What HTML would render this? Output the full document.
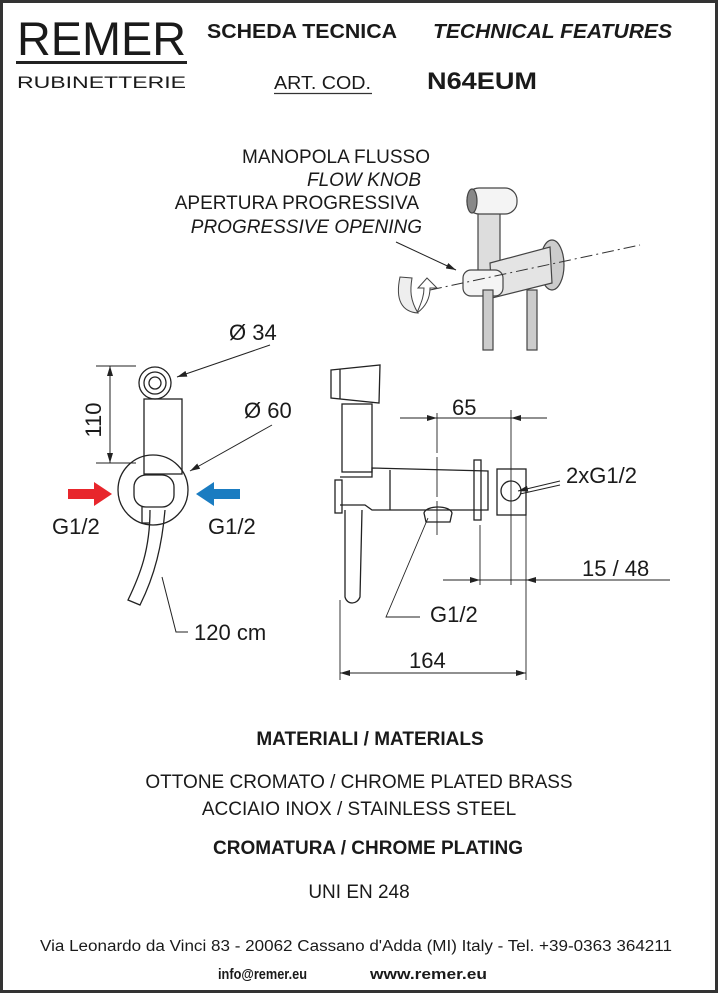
<!DOCTYPE html>
<html><head><meta charset="utf-8"><style>
html,body{margin:0;padding:0;background:#fff}
svg{display:block}
text{font-family:"Liberation Sans",sans-serif;fill:#1a1a1a}
</style></head><body>
<svg width="718" height="994" viewBox="0 0 718 994" xmlns="http://www.w3.org/2000/svg">
<defs>
<marker id="ar" markerWidth="10" markerHeight="6" refX="10" refY="3" orient="auto" markerUnits="userSpaceOnUse"><path d="M0,0 L10,3 L0,6z" fill="#222"/></marker>
<marker id="as" markerWidth="10" markerHeight="6" refX="0" refY="3" orient="auto" markerUnits="userSpaceOnUse"><path d="M10,0 L0,3 L10,6z" fill="#222"/></marker>
</defs>
<rect x="1.5" y="1.5" width="715" height="990" fill="#fff" stroke="#333" stroke-width="3"/>
<!-- header -->
<text x="17" y="55" font-size="47" textLength="169" lengthAdjust="spacingAndGlyphs">REMER</text>
<rect x="16" y="61" width="171" height="3" fill="#222"/>
<text x="17" y="88" font-size="17" textLength="169" lengthAdjust="spacingAndGlyphs">RUBINETTERIE</text>
<text x="207" y="38" font-size="20" font-weight="bold" textLength="190" lengthAdjust="spacingAndGlyphs">SCHEDA TECNICA</text>
<text x="433" y="38" font-size="20" font-weight="bold" font-style="italic" textLength="239" lengthAdjust="spacingAndGlyphs">TECHNICAL FEATURES</text>
<text x="274" y="89" font-size="18" textLength="97" lengthAdjust="spacingAndGlyphs">ART. COD.</text>
<line x1="274" y1="93.5" x2="372" y2="93.5" stroke="#333" stroke-width="1.2"/>
<text x="427" y="89" font-size="24" font-weight="bold" textLength="110" lengthAdjust="spacingAndGlyphs">N64EUM</text>
<!-- top labels -->
<g font-size="19" text-anchor="end">
<text x="430" y="163">MANOPOLA FLUSSO</text>
<text x="421" y="186" font-style="italic">FLOW KNOB</text>
<text x="419" y="209">APERTURA PROGRESSIVA</text>
<text x="422" y="233" font-style="italic">PROGRESSIVE OPENING</text>
</g>
<line x1="396" y1="242" x2="456" y2="270" stroke="#222" marker-end="url(#ar)"/>
<!-- product image -->
<g stroke="#444" fill="#eee" stroke-width="1.2">
<rect x="478" y="197" width="22" height="92" fill="#ddd"/>
<rect x="467" y="188" width="50" height="26" rx="12" fill="#f4f4f4"/>
<ellipse cx="472" cy="201" rx="5" ry="12" fill="#888"/>
<ellipse cx="552" cy="265" rx="12" ry="25" fill="#ccc"/>
<path d="M490,263 L550,247 L552,283 L492,298z" fill="#e4e4e4"/>
<rect x="463" y="270" width="40" height="26" rx="8" fill="#f4f4f4"/>
<rect x="483" y="290" width="10" height="60" fill="#ccc"/>
<rect x="527" y="290" width="10" height="60" fill="#ccc"/>
</g>
<line x1="430" y1="290" x2="640" y2="245" stroke="#333" stroke-dasharray="12,4,2,4"/>
<path d="M400,277 C395,300 402,312 418,313 C410,300 410,290 412,278z" fill="#eee" stroke="#444"/>
<path d="M417,313 C428,305 430,295 430,288 L437,288 L427,278 L418,288 L424,288 C424,298 420,305 417,313" fill="#fff" stroke="#444"/>
<!-- left drawing -->
<g stroke="#222" fill="none" stroke-width="1.3">
<circle cx="155" cy="383" r="16"/><circle cx="155" cy="383" r="11"/><circle cx="155" cy="383" r="6"/>
<rect x="144" y="399" width="38" height="75"/>
<circle cx="153" cy="490" r="35"/>
<rect x="134" y="475" width="40" height="32" rx="12"/>
<path d="M142,507 L142,523 L150,523"/>
<path d="M150,510 C150,550 140,575 128,600 L140,605 C155,575 162,545 165,510"/>
</g>
<g stroke="#222" stroke-width="1">
<line x1="96" y1="366" x2="136" y2="366"/><line x1="96" y1="463" x2="136" y2="463"/>
<line x1="110" y1="366" x2="110" y2="463" marker-start="url(#as)" marker-end="url(#ar)"/>
<line x1="270" y1="345" x2="177" y2="377" marker-end="url(#ar)"/>
<line x1="272" y1="425" x2="190" y2="471" marker-end="url(#ar)"/>
<polyline points="162,577 176,632 188,632" fill="none"/>
</g>
<path d="M68,489 h26 v-7 l18,12 l-18,12 v-7 h-26z" fill="#e8262c"/>
<path d="M240,489 h-26 v-7 l-18,12 l18,12 v-7 h26z" fill="#1a7cc1"/>
<g font-size="22">
<text x="101" y="420" transform="rotate(-90 101 420)" text-anchor="middle">110</text>
<text x="229" y="340">Ø 34</text>
<text x="244" y="418">Ø 60</text>
<text x="52" y="534">G1/2</text>
<text x="208" y="534">G1/2</text>
<text x="194" y="640">120 cm</text>
</g>
<!-- right drawing -->
<g stroke="#222" fill="none" stroke-width="1.3">
<path d="M331,370 L380,365 L379,403 L331,398z"/><line x1="340" y1="369" x2="340" y2="399"/>
<rect x="342" y="404" width="30" height="68"/>
<path d="M340,477 L372,477 L372,468 L488,471 L488,510 L372,510 L365,505 L340,505"/>
<line x1="390" y1="470" x2="390" y2="510"/>
<rect x="335" y="480" width="7" height="33"/>
<rect x="474" y="460" width="7" height="60"/>
<rect x="497" y="469" width="29" height="46"/>
<circle cx="511" cy="491" r="10"/>
<path d="M424,513 C426,505 450,505 452,513 L450,522 L426,522z"/>
<path d="M345,510 L345,597 C347,605 357,605 360,597 L362,510"/>
</g>
<g stroke="#222" stroke-width="0.9">
<line x1="400" y1="418" x2="547" y2="418"/>
<line x1="418" y1="418" x2="437" y2="418" marker-end="url(#ar)"/>
<line x1="530" y1="418" x2="511" y2="418" marker-end="url(#ar)"/>
<line x1="437" y1="413" x2="437" y2="535" stroke-dasharray="40,4"/>
<line x1="511" y1="410" x2="511" y2="585"/>
<line x1="560" y1="481" x2="518" y2="491" marker-end="url(#ar)"/>
<line x1="560" y1="485" x2="520" y2="494"/>
<line x1="443" y1="580" x2="670" y2="580"/>
<line x1="462" y1="580" x2="480" y2="580" marker-end="url(#ar)"/>
<line x1="545" y1="580" x2="526" y2="580" marker-end="url(#ar)"/>
<line x1="480" y1="525" x2="480" y2="585"/>
<line x1="526" y1="515" x2="526" y2="680"/>
<polyline points="428,518 386,617 420,617" fill="none"/>
<line x1="340" y1="600" x2="340" y2="680"/>
<line x1="340" y1="673" x2="526" y2="673" marker-start="url(#as)" marker-end="url(#ar)"/>
</g>
<g font-size="22">
<text x="452" y="415">65</text>
<text x="566" y="483">2xG1/2</text>
<text x="582" y="576">15 / 48</text>
<text x="430" y="622">G1/2</text>
<text x="409" y="668">164</text>
</g>
<!-- bottom text -->
<g text-anchor="middle">
<text x="370" y="745" font-size="19" font-weight="bold">MATERIALI / MATERIALS</text>
<text x="359" y="788" font-size="19">OTTONE CROMATO / CHROME PLATED BRASS</text>
<text x="359" y="815" font-size="19">ACCIAIO INOX / STAINLESS STEEL</text>
<text x="368" y="854" font-size="19" font-weight="bold">CROMATURA / CHROME PLATING</text>
<text x="359" y="898" font-size="19">UNI EN 248</text>
<text x="356" y="951" font-size="15.5" textLength="632" lengthAdjust="spacingAndGlyphs">Via Leonardo da Vinci 83 - 20062 Cassano d'Adda (MI) Italy - Tel. +39-0363 364211</text>
</g>
<text x="218" y="979" font-size="15" font-weight="bold" textLength="89" lengthAdjust="spacingAndGlyphs">info@remer.eu</text>
<text x="370" y="979" font-size="15" font-weight="bold" textLength="117" lengthAdjust="spacingAndGlyphs">www.remer.eu</text>
</svg>
</body></html>
